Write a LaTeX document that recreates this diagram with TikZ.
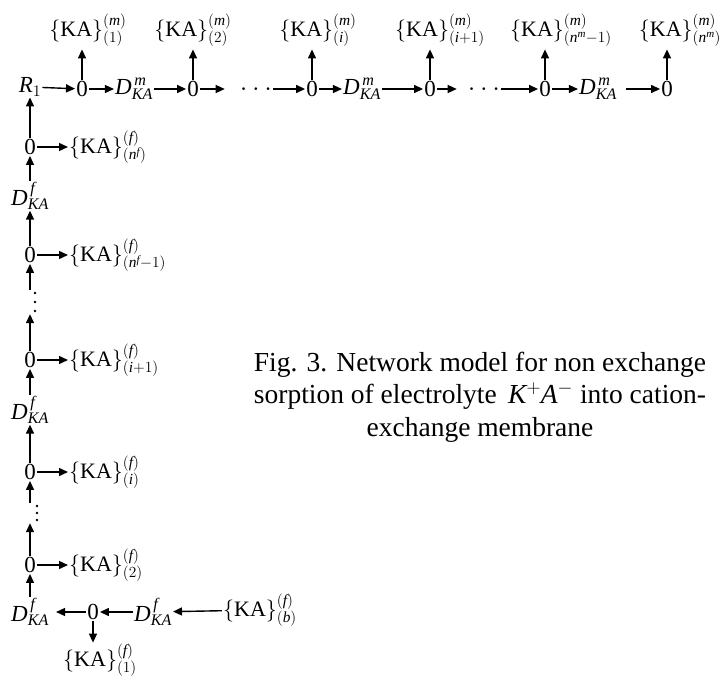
\documentclass[tikz,border=0pt]{standalone}
\usepackage{fix-cm}
\usepackage{fontspec}
\setmainfont{Liberation Serif}
\usetikzlibrary{arrows.meta}
\newcommand\KAlab[2]{$\{\mathrm{KA}\}^{(\mathit{#1})}_{(#2)}$}
\newcommand\Dlab[1]{$\mathit{D}^{\,\mathit{#1}}_{\mathit{KA}}$}
\tikzset{
  nd/.style={inner sep=1pt, font=\fontsize{23}{27}\selectfont},
  dts/.style={inner sep=1pt, font=\fontsize{28}{30}\selectfont},
  vd/.style={inner sep=0pt, minimum width=4pt, minimum height=24pt},
  lab/.style={inner sep=1pt, font=\fontsize{22}{26}\selectfont},
  arr/.style={line width=1.4pt, -{Triangle[length=9pt,width=8pt]}},
}
\begin{document}
\begin{tikzpicture}[x=1pt,y=-1pt]
\useasboundingbox (0,0) rectangle (722,677);
% top row
\node[nd] (R1) at (30,87) {$\mathit{R}_1$};
\node[nd] (t1) at (82,89) {0};
\node[nd] (Dm1) at (134,89) {\Dlab{m}};
\node[nd] (t2) at (193,89) {0};
\node[dts] (dA) at (256,89) {$\ldots$};
\node[nd] (t3) at (312,89) {0};
\node[nd] (Dm2) at (362,89) {\Dlab{m}};
\node[nd] (t4) at (430,89) {0};
\node[dts] (dB) at (484,89) {$\ldots$};
\node[nd] (t5) at (545,89) {0};
\node[nd] (Dm3) at (598,89) {\Dlab{m}};
\node[nd] (t6) at (667,89) {0};
\draw[arr] (R1) -- (t1);
\draw[arr] (t1) -- (Dm1);
\draw[arr] (Dm1) -- (t2);
\draw[arr, shorten >=14pt] (t2) -- (dA);
\draw[arr] (dA) -- (t3);
\draw[arr] (t3) -- (Dm2);
\draw[arr] (Dm2) -- (t4);
\draw[arr, shorten >=10pt] (t4) -- (dB);
\draw[arr] (dB) -- (t5);
\draw[arr] (t5) -- (Dm3);
\draw[arr, shorten <=8pt] (Dm3) -- (t6);
% top labels
\node[lab] (m1) at (88,30) {\KAlab{m}{1}};
\node[lab] (m2) at (193,30) {\KAlab{m}{2}};
\node[lab] (m3) at (318,30) {\KAlab{m}{\mathit{i}}};
\node[lab] (m4) at (440,30) {\KAlab{m}{\mathit{i}+1}};
\node[lab] (m5) at (561,30) {\KAlab{m}{\mathit{n}^{\mathit{m}}-1}};
\node[lab] (m6) at (680,30) {\KAlab{m}{\mathit{n}^{\mathit{m}}}};
\foreach \z/\l in {t1/m1,t2/m2,t3/m3,t4/m4,t5/m5,t6/m6}
  \draw[arr, shorten >=2pt] (\z) -- (\z |- \l.south);
% left column
\node[nd] (f1) at (30,147) {0};
\node[nd] (Df1) at (30,196) {\Dlab{f}};
\node[nd] (f2) at (30,255) {0};
\node[vd] (v1) at (35,302) {};
\node[nd] (f3) at (30,360) {0};
\node[nd] (Df2) at (30,410) {\Dlab{f}};
\node[nd] (f4) at (30,472) {0};
\node[nd] (f5) at (30,565) {0};
\node[vd, minimum height=20pt] (v2) at (37,513) {};
\node[nd] (Df3) at (30,612) {\Dlab{f}};
\foreach \dy in {-9,0,9} \fill ([yshift=\dy pt]v1.center) circle (1.4pt);
\foreach \dy in {-7,0,7} \fill ([yshift=\dy pt]v2.center) circle (1.4pt);
\draw[arr] (f1) -- (R1);
\draw[arr] (Df1) -- (f1);
\draw[arr] (f2) -- (Df1);
\draw[arr] (v1.north -| f2) -- (f2);
\draw[arr] (f3) -- (f3 |- v1.south);
\draw[arr] (Df2) -- (f3);
\draw[arr] (f4) -- (Df2);
\draw[arr] (v2.north -| f4) -- (f4);
\draw[arr] (f5) -- (f5 |- v2.south);
\draw[arr] (Df3) -- (f5);
% side labels
\node[lab, anchor=west] (s1) at (68,147) {\KAlab{f}{\mathit{n}^{\mathit{f}}}};
\node[lab, anchor=west] (s2) at (68,255) {\KAlab{f}{\mathit{n}^{\mathit{f}}-1}};
\node[lab, anchor=west] (s3) at (68,360) {\KAlab{f}{\mathit{i}+1}};
\node[lab, anchor=west] (s4) at (68,472) {\KAlab{f}{\mathit{i}}};
\node[lab, anchor=west] (s5) at (68,565) {\KAlab{f}{2}};
\foreach \z/\l in {f1/s1,f2/s2,f3/s3,f4/s4,f5/s5}
  \draw[arr] (\z) -- (\l.west |- \z);
% bottom row
\node[nd] (b0) at (93,612) {0};
\node[nd] (Df4) at (153,612) {\Dlab{f}};
\node[lab] (Kb) at (260,610) {\KAlab{f}{\mathit{b}}};
\node[lab] (K1) at (100,660) {\KAlab{f}{1}};
\draw[arr] (Kb) -- (Df4);
\draw[arr] (Df4) -- (b0);
\draw[arr, shorten >=6pt] (b0) -- (Df3);
\draw[arr] (b0) -- (b0 |- K1.north);
% caption
\node[inner sep=0pt, align=center, font=\fontsize{27.5}{32.5}\selectfont] (cap) at (480,397)
  {Fig. 3. Network model for non exchange\\
   sorption of electrolyte \,$\mathit{K}^{+}\mathit{A}^{-}$ into cation-\\
   exchange membrane};
\end{tikzpicture}
\end{document}
